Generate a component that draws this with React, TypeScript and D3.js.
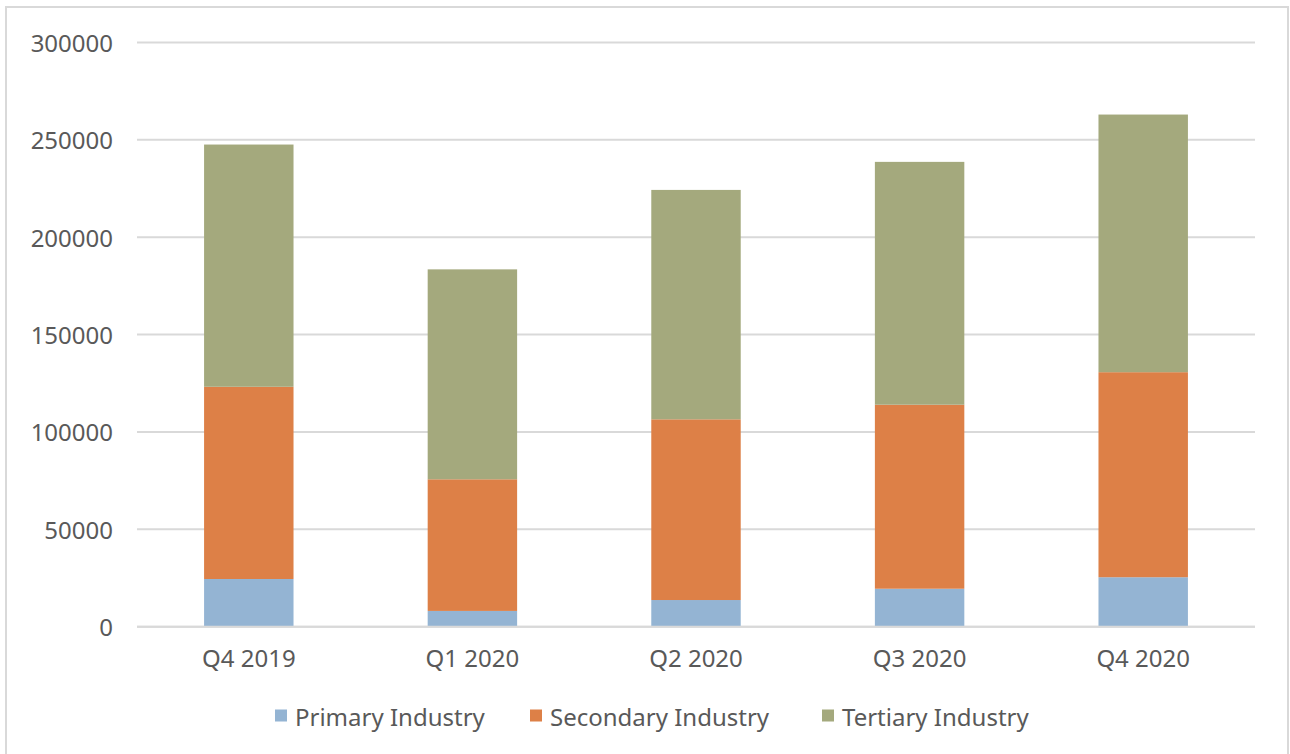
import React from "react";
import * as d3 from "d3";

const categories = ["Q4 2019", "Q1 2020", "Q2 2020", "Q3 2020", "Q4 2020"];
const seriesNames = ["Primary Industry", "Secondary Industry", "Tertiary Industry"];
const primary = [24500, 8100, 13700, 19500, 25400];
const secondary = [98700, 67600, 92800, 94500, 105300];
const tertiary = [124400, 107800, 117800, 124700, 132300];
const yTicks = [0, 50000, 100000, 150000, 200000, 250000, 300000];
const colors = ["#94b4d3", "#dd8047", "#a4a97d"];

const W = 1290;
const H = 754;
const left = 137;
const right = 1255;
const top = 42.5;
const bottom = 626.7;
const FONT = "'Noto Sans', sans-serif";
const TEXT = "#595959";
const GRID = "#d9d9d9";

export default function App() {
  const rows = categories.map((c, i) => ({
    cat: c,
    s0: primary[i],
    s1: secondary[i],
    s2: tertiary[i],
  }));
  const stack = d3.stack<any>().keys(["s0", "s1", "s2"]);
  const layers = stack(rows);
  const x = d3.scaleBand().domain(categories).range([left, right]).paddingInner(0.6).paddingOuter(0.3);
  const y = d3.scaleLinear().domain([0, 300000]).range([bottom, top]);
  const step = x.step();

  const legendX = [275, 530, 822];

  return (
    <svg width={W} height={H} style={{ position: "absolute", left: 0, top: 0 }} fontFamily={FONT}>
      <rect x={0} y={0} width={W} height={H} fill="#fff" />
      <rect x={6} y={7} width={1282} height={748} fill="none" stroke={GRID} strokeWidth={2} />
      {yTicks.map((t) => (
        <g key={t}>
          <line x1={left} x2={right} y1={y(t)} y2={y(t)} stroke={GRID} strokeWidth={2} />
          <text x={113} y={y(t)} textAnchor="end" dominantBaseline="central" fontSize={24} fill={TEXT}>
            {t}
          </text>
        </g>
      ))}
      {layers.map((layer, li) => (
        <g key={li} fill={colors[li]}>
          {layer.map((d: any, i: number) => (
            <rect
              key={i}
              x={x(categories[i])}
              width={x.bandwidth()}
              y={y(d[1])}
              height={y(d[0]) - y(d[1])}
            />
          ))}
        </g>
      ))}
      <line x1={left} x2={right} y1={y(0)} y2={y(0)} stroke={GRID} strokeWidth={2} />
      {categories.map((c) => (
        <text
          key={c}
          x={(x(c) as number) + x.bandwidth() / 2}
          y={657}
          textAnchor="middle"
          dominantBaseline="central"
          fontSize={24}
          fill={TEXT}
        >
          {c}
        </text>
      ))}
      {seriesNames.map((s, i) => (
        <g key={s}>
          <rect x={legendX[i]} y={709.5} width={12} height={12} fill={colors[i]} />
          <text x={legendX[i] + 20} y={716} dominantBaseline="central" fontSize={24} fill={TEXT}>
            {s}
          </text>
        </g>
      ))}
    </svg>
  );
}
